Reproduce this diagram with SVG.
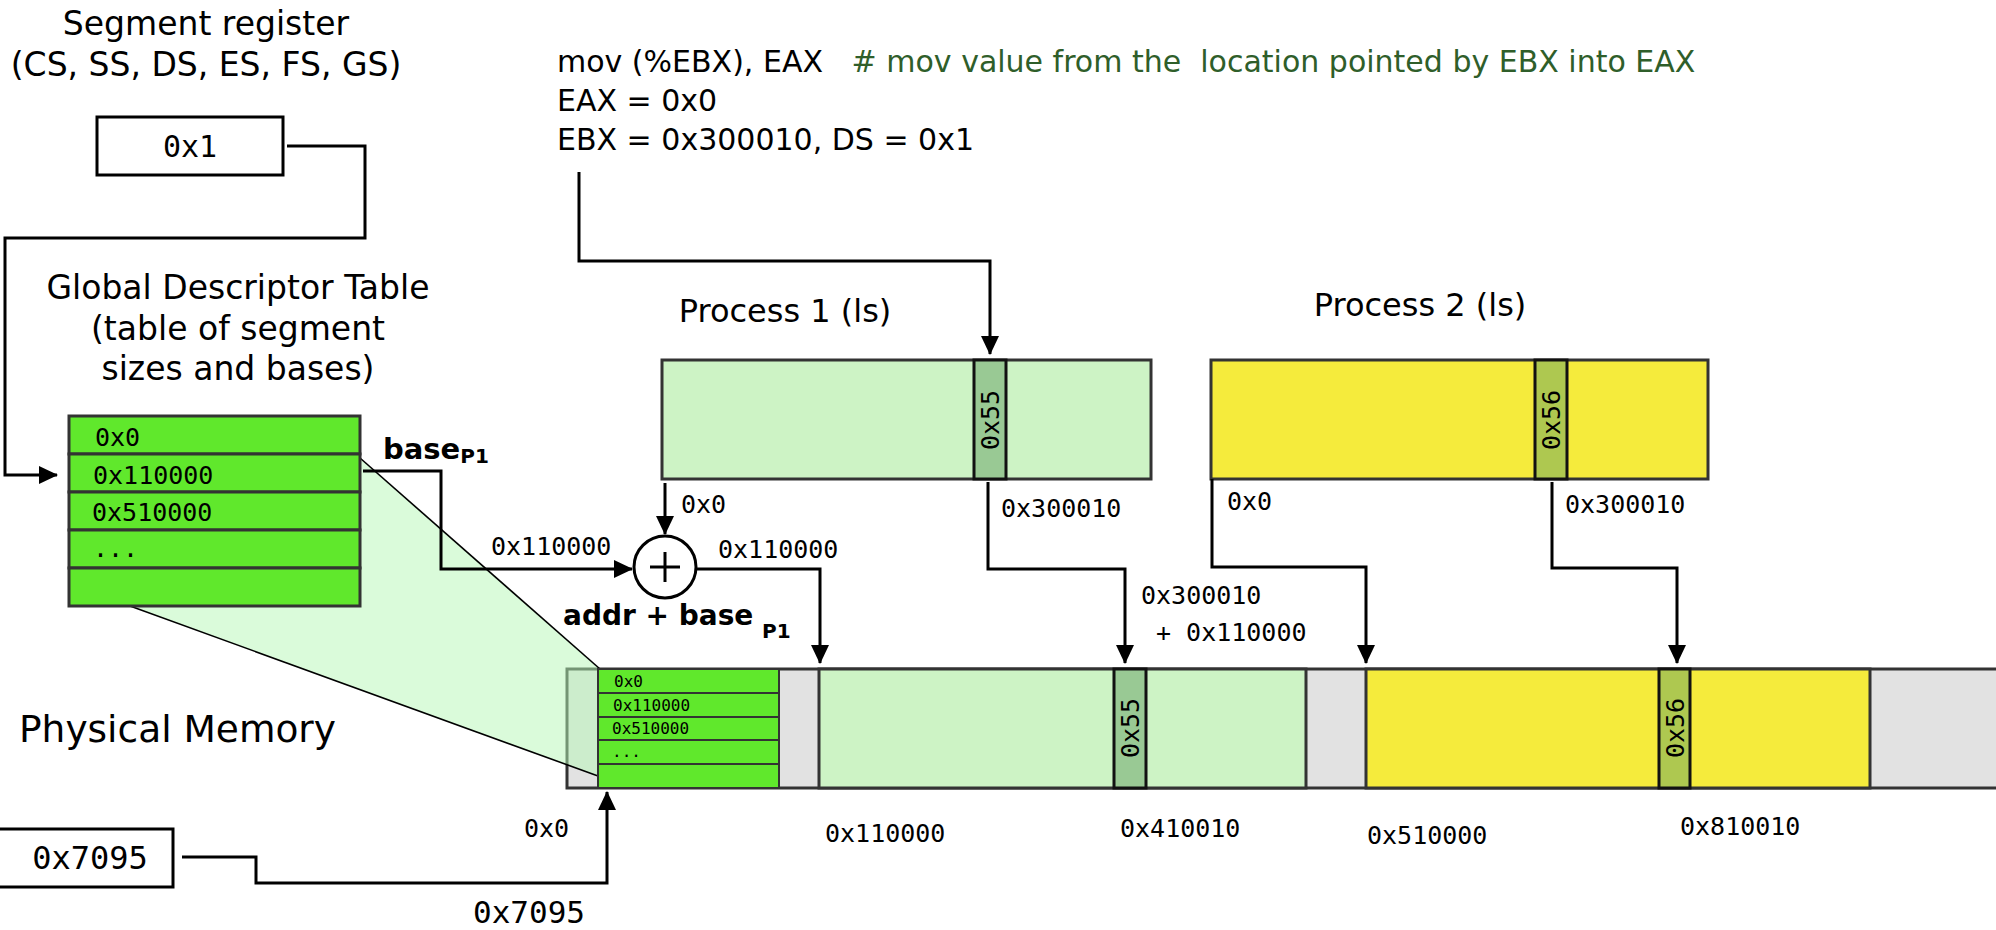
<svg xmlns="http://www.w3.org/2000/svg" width="1996" height="930" viewBox="0 0 1996 930">
<defs>
<style>
.t{font-family:"DejaVu Sans","Liberation Sans",sans-serif;fill:#000}
.m{font-family:"DejaVu Sans Mono","Liberation Mono",monospace;fill:#000}
.b{font-weight:bold}
.ln{fill:none;stroke:#000;stroke-width:3}
.bx{stroke:#333;stroke-width:3}
.cell{stroke:#111;stroke-width:3}
.row{stroke:#333;stroke-width:3;fill:#60e82c}
.rowS{stroke:#333;stroke-width:2;fill:#60e82c}
.cm{fill:#2f5e2a}
</style>
<marker id="ah" markerUnits="userSpaceOnUse" markerWidth="19" markerHeight="18" refX="18" refY="9" orient="auto">
<path d="M0,0 L19,9 L0,18 z" fill="#000"/>
</marker>
</defs>
<rect width="1996" height="930" fill="#fff"/>

<!-- Physical memory bar -->
<g id="physical-memory">
<rect class="bx" x="567" y="669" width="1445" height="119" fill="#e2e2e2"/>
</g>

<!-- projection of GDT into memory -->
<g id="gdt-projection">
<polygon points="360,458 600,669 598,776 130,606" fill="#b5f7b5" fill-opacity="0.5"/>
<line x1="360" y1="458" x2="600" y2="669" stroke="#000" stroke-width="1.6"/>
<line x1="130" y1="606" x2="598" y2="776" stroke="#000" stroke-width="1.6"/>
</g>

<g id="mem-gdt">
<rect class="rowS" x="598" y="669" width="181" height="24"/>
<rect class="rowS" x="598" y="693" width="181" height="24"/>
<rect class="rowS" x="598" y="717" width="181" height="23"/>
<rect class="rowS" x="598" y="740" width="181" height="24"/>
<rect class="rowS" x="598" y="764" width="181" height="24"/>
<text class="m" font-size="16" x="614" y="687">0x0</text>
<text class="m" font-size="16" x="613" y="711">0x110000</text>
<text class="m" font-size="16" x="612" y="734">0x510000</text>
<text class="m" font-size="16" x="612" y="757">...</text>
</g>

<g id="mem-process1">
<rect class="bx" x="819" y="669" width="487" height="119" fill="#cdf3c5"/>
<rect class="cell" x="1114" y="669" width="32" height="119" fill="#99c994"/>
<text class="m" font-size="25" x="1130" y="728" dy="0.35em" text-anchor="middle" transform="rotate(-90 1130 728)">0x55</text>
</g>

<g id="mem-process2">
<rect class="bx" x="1366" y="669" width="504" height="119" fill="#f5eb3c"/>
<rect class="cell" x="1659" y="669" width="31" height="119" fill="#aec850"/>
<text class="m" font-size="25" x="1675" y="728" dy="0.35em" text-anchor="middle" transform="rotate(-90 1675 728)">0x56</text>
</g>

<!-- Segment register -->
<g id="segment-register">
<text class="t" font-size="33" x="206" y="35" text-anchor="middle">Segment register</text>
<text class="t" font-size="33" x="206" y="76" text-anchor="middle">(CS, SS, DS, ES, FS, GS)</text>
<rect x="97" y="117" width="186" height="58" fill="#fff" stroke="#000" stroke-width="3"/>
<text class="m" font-size="30" x="190" y="157" text-anchor="middle">0x1</text>
</g>

<!-- GDT -->
<g id="gdt">
<text class="t" font-size="33" x="238" y="299" text-anchor="middle">Global Descriptor Table</text>
<text class="t" font-size="33" x="238" y="340" text-anchor="middle">(table of segment</text>
<text class="t" font-size="33" x="238" y="380" text-anchor="middle">sizes and bases)</text>
<rect class="row" x="69" y="416" width="291" height="38"/>
<rect class="row" x="69" y="454" width="291" height="38"/>
<rect class="row" x="69" y="492" width="291" height="38"/>
<rect class="row" x="69" y="530" width="291" height="38"/>
<rect class="row" x="69" y="568" width="291" height="38"/>
<text class="m" font-size="25" x="95" y="446">0x0</text>
<text class="m" font-size="25" x="93" y="484">0x110000</text>
<text class="m" font-size="25" x="92" y="521">0x510000</text>
<text class="m" font-size="25" x="93" y="557">...</text>
</g>

<!-- Instruction -->
<g id="instruction">
<text class="t" font-size="30" x="557" y="72" style="white-space:pre">mov (%EBX), EAX   <tspan class="cm"># mov value from the  location pointed by EBX into EAX</tspan></text>
<text class="t" font-size="30" x="557" y="111">EAX = 0x0</text>
<text class="t" font-size="30" x="557" y="150">EBX = 0x300010, DS = 0x1</text>
</g>

<!-- Process 1 -->
<g id="process1">
<text class="t" font-size="32" x="785" y="322" text-anchor="middle">Process 1 (ls)</text>
<rect class="bx" x="662" y="360" width="489" height="119" fill="#cdf3c5"/>
<rect class="cell" x="974" y="360" width="32" height="119" fill="#99c994"/>
<text class="m" font-size="25" x="990" y="420" dy="0.35em" text-anchor="middle" transform="rotate(-90 990 420)">0x55</text>
</g>

<!-- Process 2 -->
<g id="process2">
<text class="t" font-size="32" x="1420" y="316" text-anchor="middle">Process 2 (ls)</text>
<rect class="bx" x="1211" y="360" width="497" height="119" fill="#f5eb3c"/>
<rect class="cell" x="1535" y="360" width="32" height="119" fill="#aec850"/>
<text class="m" font-size="25" x="1551" y="420" dy="0.35em" text-anchor="middle" transform="rotate(-90 1551 420)">0x56</text>
</g>

<!-- Adder -->
<g id="adder">
<circle cx="665" cy="567" r="31" fill="#fff" stroke="#000" stroke-width="3"/>
<line x1="650" y1="567" x2="680" y2="567" stroke="#000" stroke-width="3"/>
<line x1="665" y1="552" x2="665" y2="582" stroke="#000" stroke-width="3"/>
</g>

<!-- Offset register -->
<g id="offset-register">
<rect x="-2" y="829" width="175" height="58" fill="#fff" stroke="#000" stroke-width="3"/>
<text class="m" font-size="32" x="90" y="869" text-anchor="middle">0x7095</text>
</g>

<!-- Connectors -->
<g id="connectors">
<path class="ln" d="M287,146 H365 V238 H5 V475 H57" marker-end="url(#ah)"/>
<path class="ln" d="M579,172 V261 H990 V354" marker-end="url(#ah)"/>
<path class="ln" d="M363,471 H441 V569 H632" marker-end="url(#ah)"/>
<path class="ln" d="M665,483 V534" marker-end="url(#ah)"/>
<path class="ln" d="M697,569 H820 V663" marker-end="url(#ah)"/>
<path class="ln" d="M988,482 V569 H1125 V663" marker-end="url(#ah)"/>
<path class="ln" d="M1212,479 V567 H1366 V663" marker-end="url(#ah)"/>
<path class="ln" d="M1552,482 V568 H1677 V663" marker-end="url(#ah)"/>
<path class="ln" d="M182,857 H256 V883 H607 V792" marker-end="url(#ah)"/>
</g>

<!-- Labels -->
<g id="labels">
<text class="t b" font-size="29" x="383" y="459">base<tspan font-size="20" dy="4">P1</tspan></text>
<text class="m" font-size="25" x="491" y="555">0x110000</text>
<text class="m" font-size="25" x="681" y="513">0x0</text>
<text class="m" font-size="25" x="718" y="558">0x110000</text>
<text class="t b" font-size="28" x="563" y="625">addr + base</text>
<text class="t b" font-size="20" x="762" y="638">P1</text>
<text class="m" font-size="25" x="1001" y="517">0x300010</text>
<text class="m" font-size="25" x="1141" y="604">0x300010</text>
<text class="m" font-size="25" x="1156" y="641" style="white-space:pre">+ 0x110000</text>
<text class="m" font-size="25" x="1227" y="510">0x0</text>
<text class="m" font-size="25" x="1565" y="513">0x300010</text>
<text class="t" font-size="37.5" x="19" y="742">Physical Memory</text>
<text class="m" font-size="25" x="524" y="837">0x0</text>
<text class="m" font-size="25" x="825" y="842">0x110000</text>
<text class="m" font-size="25" x="1120" y="837">0x410010</text>
<text class="m" font-size="25" x="1367" y="844">0x510000</text>
<text class="m" font-size="25" x="1680" y="835">0x810010</text>
<text class="m" font-size="31" x="473" y="923">0x7095</text>
</g>
</svg>
